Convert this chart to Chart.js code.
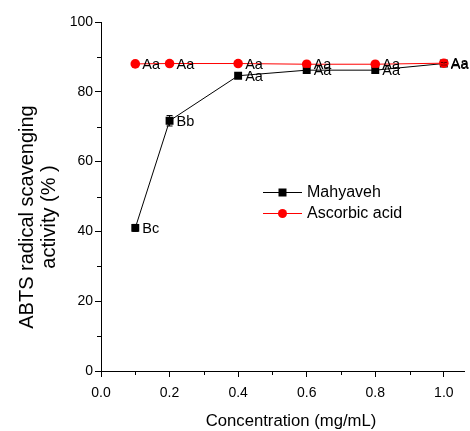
<!DOCTYPE html>
<html>
<head>
<meta charset="utf-8">
<script src="https://cdn.jsdelivr.net/npm/chart.js@4/dist/chart.umd.min.js"></script>
<style>
html,body{margin:0;padding:0;background:#fff;}
#wrap{width:470px;height:431px;}
</style>
</head>
<body>
<div id="wrap"><canvas id="c" width="470" height="431"></canvas></div>
<script>
const concentrations = [0.1, 0.2, 0.4, 0.6, 0.8, 1.0];
const mahyaveh = [41.0, 71.7, 84.6, 86.2, 86.2, 88.1];
const mahyavehErr = [1.0, 1.5, 0.6, 0.5, 0.5, 0.4];
const mahyavehLabels = ["Bc", "Bb", "Aa", "Aa", "Aa", "Aa"];
const ascorbic = [88.0, 88.1, 88.1, 87.9, 87.9, 88.2];
const ascorbicErr = [0.3, 0.3, 0.3, 0.6, 0.6, 0.5];
const ascorbicLabels = ["Aa", "Aa", "Aa", "Aa", "Aa", "Aa"];
const xMajorTicks = [0.0, 0.2, 0.4, 0.6, 0.8, 1.0];
const xMinorTicks = [0.1, 0.3, 0.5, 0.7, 0.9];
const yMajorTicks = [0, 20, 40, 60, 80, 100];
const yMinorTicks = [10, 30, 50, 70, 90];
const seriesNames = ["Mahyaveh", "Ascorbic acid"];
const yTitleLines = ["ABTS radical scavenging", "activity (% )"];
const xTitle = "Concentration (mg/mL)";

const FONT = "'Liberation Sans', Arial, sans-serif";

const extras = {
  id: 'extras',
  afterDatasetsDraw(chart) {
    const ctx = chart.ctx;
    const xs = chart.scales.x, ys = chart.scales.y;
    ctx.save();
    // minor ticks
    ctx.strokeStyle = '#000'; ctx.lineWidth = 1;
    xMinorTicks.forEach(v => {
      const px = Math.round(xs.getPixelForValue(v)) + 0.5;
      ctx.beginPath(); ctx.moveTo(px, xs.top); ctx.lineTo(px, xs.top + 4); ctx.stroke();
    });
    yMinorTicks.forEach(v => {
      const py = Math.round(ys.getPixelForValue(v)) + 0.5;
      ctx.beginPath(); ctx.moveTo(ys.right, py); ctx.lineTo(ys.right - 4, py); ctx.stroke();
    });
    // error bars
    const drawErr = (vals, errs, color) => {
      ctx.strokeStyle = color;
      vals.forEach((v, i) => {
        const px = xs.getPixelForValue(concentrations[i]);
        const p1 = ys.getPixelForValue(v + errs[i]);
        const p2 = ys.getPixelForValue(v - errs[i]);
        ctx.beginPath();
        ctx.moveTo(px, p1); ctx.lineTo(px, p2);
        ctx.moveTo(px - 3, p1); ctx.lineTo(px + 3, p1);
        ctx.moveTo(px - 3, p2); ctx.lineTo(px + 3, p2);
        ctx.stroke();
      });
    };
    drawErr(mahyaveh, mahyavehErr, '#000');
    drawErr(ascorbic, ascorbicErr, '#ff0000');
    // letter labels
    ctx.fillStyle = '#000';
    ctx.font = '14.5px ' + FONT;
    ctx.textBaseline = 'middle';
    ctx.textAlign = 'left';
    const drawLabels = (vals, labels, dy) => {
      vals.forEach((v, i) => {
        const px = xs.getPixelForValue(concentrations[i]);
        const py = ys.getPixelForValue(v);
        ctx.fillText(labels[i], px + 7, py + dy);
      });
    };
    drawLabels(ascorbic, ascorbicLabels, 1);
    drawLabels(mahyaveh, mahyavehLabels, 1);
    // legend
    const lx = 263, ly1 = 192, ly2 = 213;
    ctx.lineWidth = 1;
    ctx.strokeStyle = '#000';
    ctx.beginPath(); ctx.moveTo(lx, ly1 + 0.5); ctx.lineTo(lx + 39, ly1 + 0.5); ctx.stroke();
    ctx.fillStyle = '#000';
    ctx.fillRect(lx + 15.5, ly1 - 3.5, 8, 8);
    ctx.strokeStyle = '#ff0000';
    ctx.beginPath(); ctx.moveTo(lx, ly2 + 0.5); ctx.lineTo(lx + 39, ly2 + 0.5); ctx.stroke();
    ctx.fillStyle = '#ff0000';
    ctx.beginPath(); ctx.arc(lx + 19.5, ly2 + 0.5, 4.5, 0, Math.PI * 2); ctx.fill();
    ctx.fillStyle = '#000';
    ctx.font = '16px ' + FONT;
    ctx.fillText(seriesNames[0], lx + 44, ly1 + 1);
    ctx.fillText(seriesNames[1], lx + 44, ly2 + 1);
    // y title
    ctx.save();
    ctx.translate(0, 217);
    ctx.rotate(-Math.PI / 2);
    ctx.textAlign = 'center';
    ctx.textBaseline = 'middle';
    ctx.font = '20px ' + FONT;
    ctx.fillText(yTitleLines[0], 0, 27);
    ctx.fillText(yTitleLines[1], 0, 49);
    ctx.restore();
    // x title
    ctx.textAlign = 'center';
    ctx.textBaseline = 'middle';
    ctx.font = '16.7px ' + FONT;
    ctx.fillText(xTitle, 291, 421);
    ctx.restore();
  }
};

new Chart(document.getElementById('c'), {
  type: 'line',
  data: {
    datasets: [
      {
        label: seriesNames[1],
        data: concentrations.map((x, i) => ({x, y: ascorbic[i]})),
        borderColor: '#ff0000', backgroundColor: '#ff0000',
        borderWidth: 1, pointStyle: 'circle', pointRadius: 4.8, pointBorderWidth: 0,
        tension: 0
      },
      {
        label: seriesNames[0],
        data: concentrations.map((x, i) => ({x, y: mahyaveh[i]})),
        borderColor: '#000', backgroundColor: '#000',
        borderWidth: 1, pointStyle: 'rect', pointRadius: 5.6, pointBorderWidth: 0,
        tension: 0
      }
    ]
  },
  options: {
    responsive: false,
    animation: false,
    events: [],
    layout: { padding: { top: 22, right: 0, left: 0, bottom: 0 } },
    plugins: { legend: { display: false }, tooltip: { enabled: false } },
    scales: {
      x: {
        type: 'linear', min: 0, max: 1.06,
        afterBuildTicks: s => { s.ticks = xMajorTicks.map(v => ({value: v})); },
        afterFit: s => { s.height = 60; },
        border: { display: true, color: '#000', width: 1 },
        grid: { display: true, drawOnChartArea: false, tickLength: 6, color: '#000', tickColor: '#000' },
        ticks: { color: '#000', font: { family: FONT, size: 14 }, padding: 8,
                 callback: v => Number(v).toFixed(1), maxRotation: 0 }
      },
      y: {
        type: 'linear', min: 0, max: 100,
        afterBuildTicks: s => { s.ticks = yMajorTicks.map(v => ({value: v})); },
        afterFit: s => { s.width = 101; },
        border: { display: true, color: '#000', width: 1 },
        grid: { display: true, drawOnChartArea: false, tickLength: 6, color: '#000', tickColor: '#000' },
        ticks: { color: '#000', font: { family: FONT, size: 14 }, padding: 2 }
      }
    }
  },
  plugins: [extras]
});
</script>
</body>
</html>
